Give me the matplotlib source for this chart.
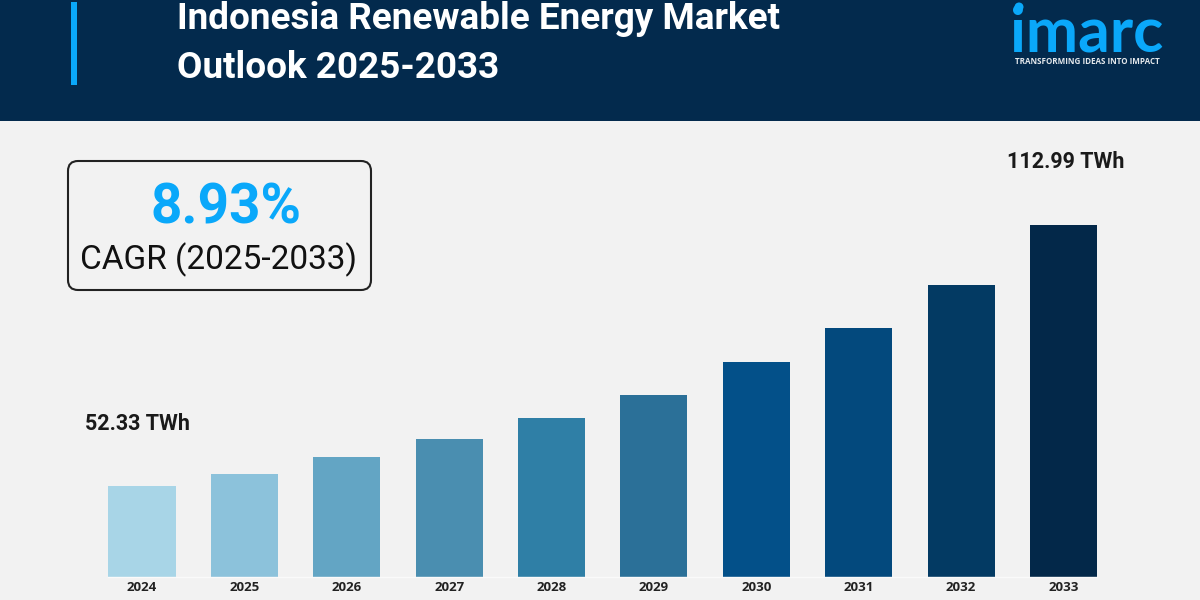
import matplotlib
matplotlib.use("Agg")
import matplotlib.pyplot as plt
from matplotlib.patches import FancyBboxPatch, Rectangle, Circle

# values (bar heights, the chart has no y axis)
years = ["2024", "2025", "2026", "2027", "2028", "2029", "2030", "2031", "2032", "2033"]
heights = [91, 103, 120, 138, 159, 182, 215, 249, 292, 352]
bar_colors = ["#A8D5E7", "#8CC2DB", "#63A5C4", "#4A8EB0", "#2F7FA6",
              "#2B7098", "#035089", "#03497D", "#033A63", "#032849"]

title_lines = ["Indonesia Renewable Energy Market", "Outlook 2025-2033"]
first_label = "52.33 TWh"
last_label = "112.99 TWh"
cagr_value = "8.93%"
cagr_text = "CAGR (2025-2033)"

NAVY = "#032A4D"
CYAN = "#0AA8FA"
BG = "#F2F2F2"

fig = plt.figure(figsize=(12, 6), dpi=100, facecolor=BG)

# page layer in pixels, y going down
page = fig.add_axes([0, 0, 1, 1])
page.set_xlim(0, 1200)
page.set_ylim(600, 0)
page.axis("off")

# HEADER
page.add_patch(Rectangle((0, 0), 1200, 121, color=NAVY, lw=0))
page.add_patch(Rectangle((71, 2), 6, 83, color=CYAN, lw=0))
page.text(177, 19, title_lines[0], color="white", fontsize=26.6, family="Roboto",
          fontweight="bold", va="center")
page.text(177, 68, title_lines[1], color="white", fontsize=26.6, family="Roboto",
          fontweight="bold", va="center")

# LOGO
page.add_patch(Circle((1019, 7), 4.5, color=CYAN, lw=0))
page.text(1087, 34, "imarc", color=CYAN, fontsize=45, family="Lato", fontweight="bold",
          ha="center", va="center")
page.text(1087, 62, "TRANSFORMING IDEAS INTO IMPACT", color="#E4E8EC", fontsize=5.8,
          family="Open Sans", fontweight="bold", ha="center", va="center")

# CAGR BOX
page.add_patch(FancyBboxPatch((76, 169), 287, 113, boxstyle="round,pad=8,rounding_size=10",
                              fc=BG, ec="#222222", lw=1.5))
page.text(226, 209, cagr_value, color=CYAN, fontsize=39.5, family="Roboto",
          fontweight="bold", ha="center", va="center")
page.text(219, 260, cagr_text, color="#111111", fontsize=24, family="Roboto",
          ha="center", va="center")

# VALUE LABELS
page.text(85, 424, first_label, color="#1A1A1A", fontsize=15.5, family="Roboto",
          fontweight="bold", va="center")
page.text(1007, 162, last_label, color="#1A1A1A", fontsize=15.5, family="Roboto",
          fontweight="bold", va="center")

# BARS
ax = fig.add_axes([90.8 / 1200, 23 / 600, 1023.9 / 1200, 447 / 600])
ax.patch.set_alpha(0)
ax.bar(range(len(years)), heights, width=0.655, color=bar_colors)
ax.set_xlim(-0.5, len(years) - 0.5)
ax.set_ylim(0, 447)
ax.set_xticks(range(len(years)))
ax.set_xticklabels(years, fontsize=9.5, family="Open Sans", fontweight="bold", color="#222222")
ax.tick_params(axis="x", length=0, pad=3)
ax.set_yticks([])
for side in ["top", "left", "right"]:
    ax.spines[side].set_visible(False)
ax.spines["bottom"].set_color("#FAFAFA")
ax.spines["bottom"].set_linewidth(1)
ax.spines["bottom"].set_bounds(-0.33, len(years) - 0.67)

fig.savefig("out.png", dpi=100, facecolor=BG)
